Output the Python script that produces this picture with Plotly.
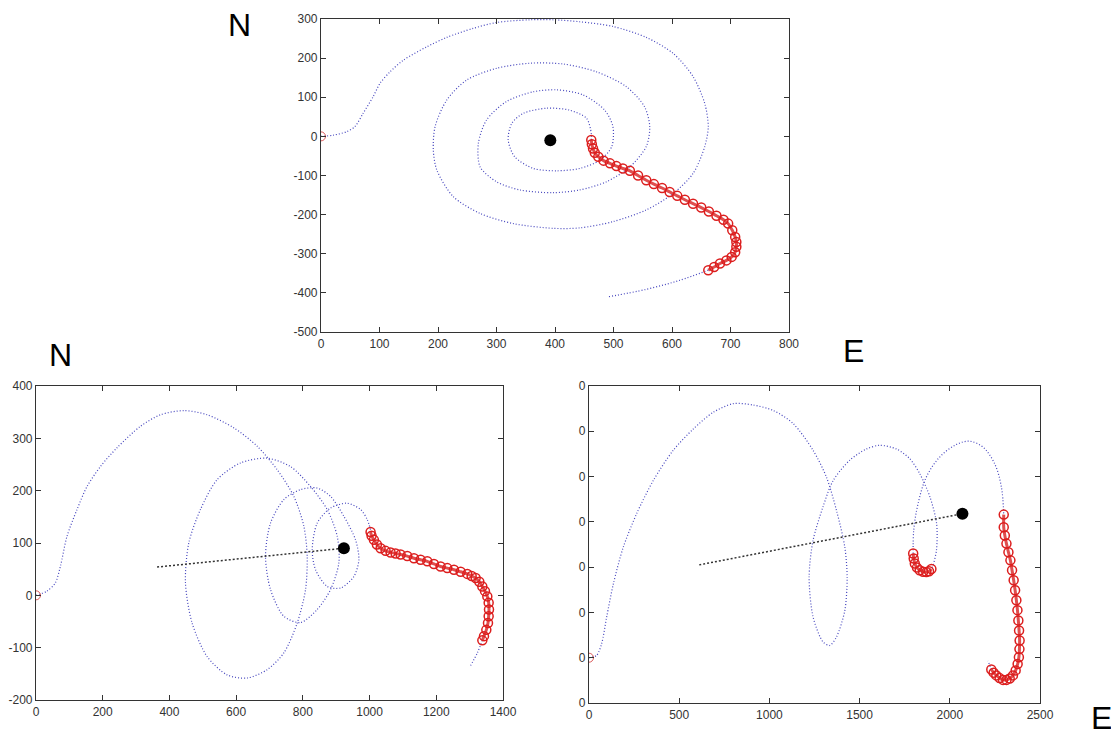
import plotly.graph_objects as go

# ---------------- Top panel (N vs E, spiral) ----------------
top_blue_x = [0, 21, 44, 58, 72, 89, 101, 118, 141, 181, 215, 260, 300, 357, 397, 442, 499, 556, 602, 636, 656, 662, 656, 636, 602, 556, 499, 442, 397, 329, 272, 226, 198, 192, 195, 215, 249, 300, 357, 414, 471, 522, 553, 562, 556, 528, 488, 442, 397, 340, 300, 272, 269, 283, 317, 363, 403, 448, 485, 499, 497, 477, 442, 403, 363, 331, 320, 326, 346, 386, 425, 454, 462, 462]
top_blue_y = [0, 3, 12, 25, 59, 101, 136, 165, 195, 229, 253, 276, 291, 298, 298, 293, 281, 253, 212, 153, 84, 25, -26, -95, -146, -188, -218, -234, -235, -223, -197, -154, -86, -35, 25, 93, 144, 174, 187, 185, 165, 127, 76, 25, -26, -78, -116, -137, -144, -137, -116, -78, -18, 42, 89, 114, 119, 106, 67, 25, -26, -61, -82, -88, -82, -52, -9, 33, 59, 72, 67, 46, 8, -9]
top_red_x = [462, 463, 465, 468, 474, 483, 494, 505, 516, 528, 542, 556, 569, 583, 596, 609, 622, 636, 650, 663, 676, 688, 696, 703, 708, 710, 710, 708, 702, 693, 682, 672, 662]
top_red_y = [-9, -20, -31, -42, -52, -62, -69, -76, -82, -88, -100, -112, -122, -132, -142, -152, -162, -172, -182, -192, -203, -213, -223, -240, -257, -270, -282, -296, -308, -317, -325, -334, -342]
top_tail_x = [662, 613, 556, 491]
top_tail_y = [-342, -368, -391, -410]
top_center = (392, -10)
top_stub_x = [383, 392]
top_stub_y = [-10, -10]
top_xticks = list(range(0, 801, 100))
top_yticks = list(range(-500, 301, 100))

# ---------------- Bottom-left panel (N vs E) ----------------
bl_blue_x = [0, 33, 58, 73, 93, 123, 153, 193, 243, 313, 373, 443, 513, 593, 663, 723, 773, 803, 813, 808, 783, 743, 693, 633, 573, 513, 468, 448, 458, 493, 543, 613, 693, 763, 823, 873, 903, 908, 883, 843, 793, 743, 703, 688, 703, 743, 793, 843, 883, 923, 958, 968, 953, 913, 873, 838, 828, 843, 883, 933, 973, 993, 1003]
bl_blue_y = [0, 8, 24, 55, 113, 164, 208, 246, 282, 323, 345, 353, 345, 320, 285, 240, 189, 132, 75, 11, -53, -110, -142, -158, -152, -117, -53, 24, 100, 164, 221, 253, 262, 246, 208, 164, 113, 62, 11, -27, -52, -40, 11, 75, 138, 183, 202, 205, 189, 151, 106, 68, 36, 14, 17, 49, 87, 138, 167, 176, 164, 145, 125]
bl_red_x = [1003, 1006, 1013, 1022, 1033, 1048, 1063, 1078, 1093, 1113, 1133, 1153, 1173, 1193, 1213, 1233, 1253, 1273, 1293, 1306, 1318, 1329, 1338, 1346, 1353, 1357, 1358, 1357, 1355, 1350, 1343, 1338]
bl_red_y = [121, 114, 106, 97, 90, 85, 82, 80, 78, 75, 71, 68, 65, 60, 55, 52, 49, 45, 41, 37, 33, 26, 17, 8, -2, -14, -27, -40, -53, -66, -78, -86]
bl_tail_x = [1338, 1323, 1303]
bl_tail_y = [-86, -110, -134]
bl_chord_x = [363, 923]
bl_chord_y = [54, 90]
bl_xticks = list(range(0, 1401, 200))
bl_yticks = list(range(-200, 401, 100))

# ---------------- Bottom-right panel ----------------
br_blue_x = [0, 42, 70, 98, 135, 190, 264, 356, 467, 578, 689, 799, 910, 1021, 1132, 1242, 1316, 1372, 1418, 1431, 1418, 1372, 1334, 1297, 1242, 1220, 1242, 1297, 1353, 1445, 1538, 1612, 1704, 1779, 1834, 1890, 1927, 1926, 1904, 1898]
br_blue_y = [0, 5, 31, 90, 163, 244, 318, 391, 458, 505, 542, 561, 558, 546, 517, 458, 399, 325, 244, 178, 104, 46, 27, 35, 90, 178, 259, 333, 391, 436, 461, 469, 461, 439, 406, 355, 296, 237, 200, 196]
br_hook_x = [1898, 1885, 1870, 1852, 1833, 1818, 1806, 1800, 1797]
br_hook_y = [196, 191, 189, 190, 193, 199, 208, 219, 230]
br_blue2_x = [1797, 1800, 1824, 1870, 1944, 2037, 2110, 2184, 2249, 2286, 2299]
br_blue2_y = [230, 281, 340, 399, 443, 471, 478, 465, 428, 377, 316]
br_red_x = [2299, 2299, 2305, 2314, 2325, 2336, 2345, 2354, 2362, 2369, 2375, 2380, 2384, 2387, 2386, 2383, 2376, 2365, 2350, 2332, 2314, 2295, 2276, 2258, 2243, 2230]
br_red_y = [316, 288, 270, 252, 233, 215, 193, 171, 149, 127, 105, 82, 60, 38, 19, 1, -14, -28, -39, -46, -49, -49, -45, -39, -33, -26]
br_tail_x = [2230, 2212]
br_tail_y = [-26, -7]
br_chord_x = [611, 2070]
br_chord_y = [205, 318]
br_xticks = list(range(0, 2501, 500))
br_ytick_vals = [-100, 0, 100, 200, 300, 400, 500, 600]
br_ytick_text = ["0"] * 8

BLUE = "rgb(70,70,190)"
RED = "rgb(220,30,30)"
DOT = "1px,2px"

fig = go.Figure()


def add_panel(xa, ya, bx, by, segs_red, tails, chord, center):
    fig.add_trace(go.Scatter(x=bx, y=by, mode="lines", xaxis=xa, yaxis=ya,
                             line=dict(color=BLUE, width=1.2, dash=DOT, shape="spline", smoothing=0.8)))
    for tx, ty in tails:
        fig.add_trace(go.Scatter(x=tx, y=ty, mode="lines", xaxis=xa, yaxis=ya,
                                 line=dict(color=BLUE, width=1.2, dash=DOT, shape="spline")))
    for rx, ry in segs_red:
        fig.add_trace(go.Scatter(x=rx, y=ry, mode="lines+markers", xaxis=xa, yaxis=ya,
                                 line=dict(color="rgba(215,35,35,0.8)", width=3, shape="spline"),
                                 marker=dict(symbol="circle-open", size=9, color=RED, line=dict(width=1.5))))
    fig.add_trace(go.Scatter(x=[bx[0]], y=[by[0]], mode="markers", xaxis=xa, yaxis=ya,
                             marker=dict(symbol="circle-open", size=9, color="rgb(220,90,90)", line=dict(width=1))))
    if chord is not None:
        fig.add_trace(go.Scatter(x=chord[0], y=chord[1], mode="lines", xaxis=xa, yaxis=ya,
                                 line=dict(color="#333", width=1.5, dash="2px,2px")))
    fig.add_trace(go.Scatter(x=[center[0]], y=[center[1]], mode="markers", xaxis=xa, yaxis=ya,
                             marker=dict(symbol="circle", size=12, color="black")))


add_panel("x", "y", top_blue_x, top_blue_y, [(top_red_x, top_red_y)],
          [(top_tail_x, top_tail_y)], (top_stub_x, top_stub_y), top_center)
add_panel("x2", "y2", bl_blue_x, bl_blue_y, [(bl_red_x, bl_red_y)],
          [(bl_tail_x, bl_tail_y)], (bl_chord_x, bl_chord_y), (bl_chord_x[1], bl_chord_y[1]))
add_panel("x3", "y3", br_blue_x, br_blue_y, [(br_hook_x, br_hook_y), (br_red_x, br_red_y)],
          [(br_blue2_x, br_blue2_y), (br_tail_x, br_tail_y)], (br_chord_x, br_chord_y),
          (br_chord_x[1], br_chord_y[1]))

# The page body adds an 8px margin; the figure is sized to fit inside it.
OFF = 8
W, H = 1119 - OFF, 738 - OFF


def px(x):
    return (x - OFF) / W


def py(y):
    return 1 - (y - OFF) / H


def labels(vals):
    return [str(v) for v in vals]  # ASCII hyphen minus, as in the original


axis_common = dict(showline=True, linecolor="#333", linewidth=1.2, mirror="allticks",
                   ticks="inside", ticklen=5, tickcolor="#333", showgrid=False, zeroline=False,
                   automargin=False,
                   tickfont=dict(family="Liberation Sans", size=12, color="#333"))

fig.update_layout(
    template="none",
    width=W, height=H, margin=dict(l=0, r=0, t=0, b=0, pad=0, autoexpand=False),
    paper_bgcolor="white", plot_bgcolor="white", showlegend=False,
    xaxis=dict(domain=[px(321), px(789)], range=[0, 800], tickvals=top_xticks, ticktext=labels(top_xticks), anchor="y", **axis_common),
    yaxis=dict(domain=[py(332), py(19)], range=[-500, 300], tickvals=top_yticks, ticktext=labels(top_yticks), anchor="x", **axis_common),
    xaxis2=dict(domain=[px(36), px(503)], range=[0, 1400], tickvals=bl_xticks, ticktext=labels(bl_xticks), anchor="y2", **axis_common),
    yaxis2=dict(domain=[py(700), py(386)], range=[-200, 400], tickvals=bl_yticks, ticktext=labels(bl_yticks), anchor="x2", **axis_common),
    xaxis3=dict(domain=[px(589), px(1040)], range=[0, 2500], tickvals=br_xticks, ticktext=labels(br_xticks), anchor="y3", **axis_common),
    yaxis3=dict(domain=[py(703), py(386)], range=[-100, 600], tickvals=br_ytick_vals, ticktext=br_ytick_text, anchor="x3", **axis_common),
)

for txt, x, y, ya in [("N", 239, 24.5, "middle"), ("N", 60.5, 354.5, "middle"), ("E", 853.5, 351, "middle"), ("E", 1101, 738, "bottom")]:
    fig.add_annotation(text=txt, x=px(x), y=py(y), xref="paper", yref="paper", showarrow=False,
                       xanchor="center", yanchor=ya,
                       font=dict(family="Liberation Sans", size=32, color="black"))

fig.write_html("out.html")
